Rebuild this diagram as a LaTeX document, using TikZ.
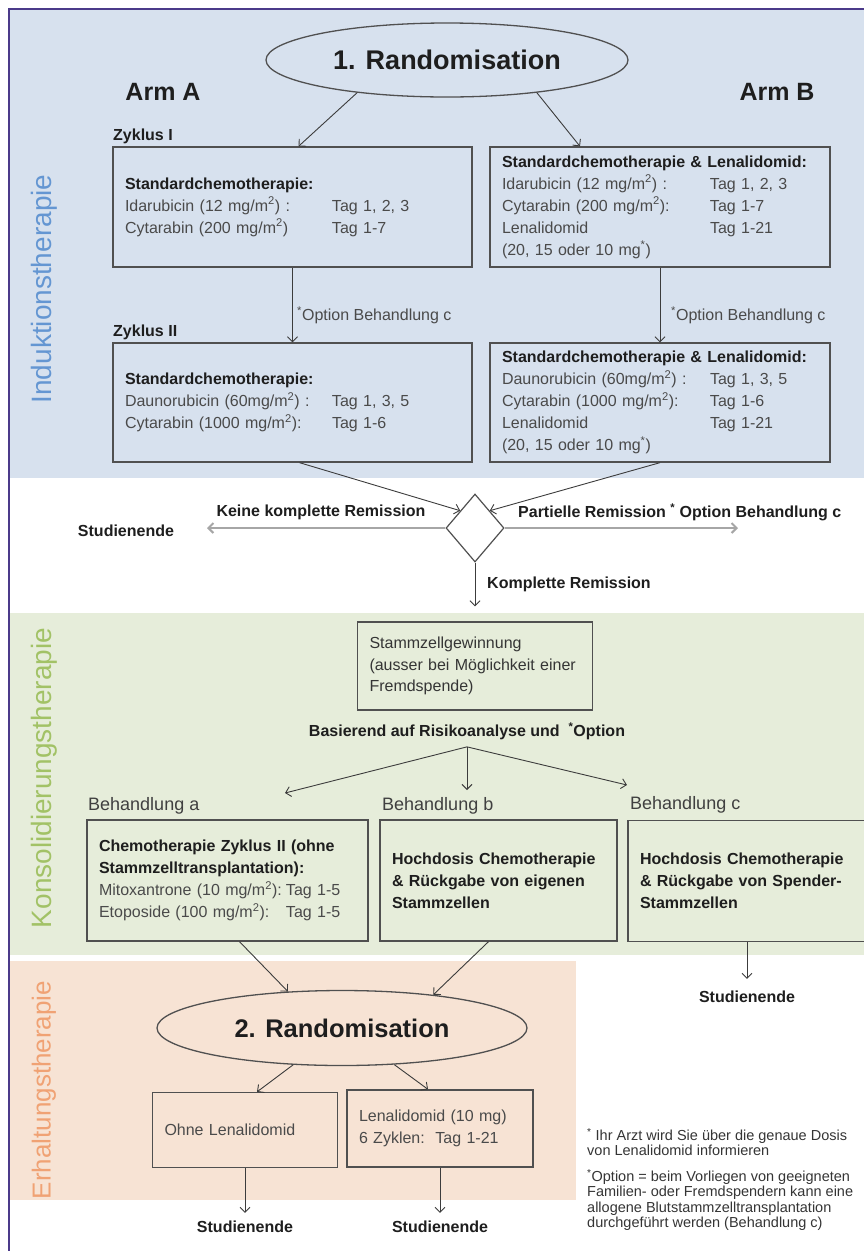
\documentclass[tikz,border=0pt]{standalone}
\usepackage{fontspec}
\setmainfont{Liberation Sans}
\usetikzlibrary{shapes.geometric,arrows.meta,calc}
\definecolor{bandblue}{HTML}{D7E1EE}
\definecolor{bandgreen}{HTML}{E6EDDA}
\definecolor{bandsalmon}{HTML}{F7E3D4}
\definecolor{lblblue}{HTML}{6496D2}
\definecolor{lblgreen}{HTML}{A2C266}
\definecolor{lblsalmon}{HTML}{F0A274}
\definecolor{framecol}{HTML}{4B3A8A}
\definecolor{boxline}{HTML}{505050}
\definecolor{txt}{HTML}{4A4A4A}
\definecolor{txtb}{HTML}{1E1E1E}
\definecolor{arrcol}{HTML}{3C3C3C}
\newcommand{\hdr}[1]{\textcolor{txtb}{\bfseries #1}}
\newcommand{\tagcol}[2]{\makebox[#1][l]{#2}}
\begin{document}
\begin{tikzpicture}[x=1pt,y=-1pt,
  box/.style={draw=boxline, line width=1.3pt, rectangle, inner xsep=12pt, inner ysep=0pt, align=left, text=txt, font=\fontsize{16}{22}\selectfont},
  bbox/.style={box, text=txtb, font=\fontsize{16}{22}\bfseries\selectfont},
  ell/.style={draw=boxline, line width=1.3pt, ellipse, inner sep=0pt, text=txtb},
  arr/.style={draw=arrcol, line width=0.9pt, -{Straight Barb[length=5pt,width=10pt]}},
  harr/.style={draw=gray!70, line width=2pt, -{Straight Barb[length=5pt,width=10pt]}},
  lbl/.style={text=txtb, font=\fontsize{16}{19}\bfseries\selectfont, inner sep=2pt},
  opt/.style={text=txt, font=\fontsize{16}{19}\selectfont, inner sep=0pt},
  beh/.style={text=txtb!85, font=\fontsize{18}{21}\selectfont, inner sep=0pt},
  vlab/.style={rotate=90, font=\fontsize{28}{32}\selectfont, inner sep=0pt},
  arm/.style={text=txtb, font=\fontsize{25}{28}\bfseries\selectfont, inner sep=0pt},
  fnote/.style={text=txtb!90, font=\fontsize{14.5}{15.5}\selectfont, align=left, inner sep=0pt, anchor=north west}
]
\useasboundingbox (0,0) rectangle (864,1251);
\clip (0,0) rectangle (864,1251);
% background bands
\fill[white] (0,0) rectangle (864,1251);
\fill[bandblue] (10,10) rectangle (864,478);
\fill[bandgreen] (10,613) rectangle (864,955);
\fill[bandsalmon] (10,961) rectangle (576,1200);
\draw[framecol, line width=2.5pt] (9,1262) -- (9,9) -- (875,9);

% side labels
\node[vlab, text=lblblue] (vInd) at (44,289) {Induktionstherapie};
\node[vlab, text=lblgreen] (vKon) at (44,778) {Konsolidierungstherapie};
\node[vlab, text=lblsalmon, font=\fontsize{26}{30}\selectfont] (vErh) at (44,1090) {Erhaltungstherapie};

% first randomisation
\node[ell, minimum width=362pt, minimum height=74pt, font=\fontsize{27}{30}\bfseries\selectfont] (e1) at (447,60) {1. Randomisation};
\node[arm] (armA) at (163,92) {Arm A};
\node[arm] (armB) at (777,92) {Arm B};

\node[lbl, anchor=west, inner sep=0pt] (zyk1) at (113,136) {Zyklus I};
\node[lbl, anchor=west, inner sep=0pt] (zyk2) at (113,332) {Zyklus II};

\node[box, text width=335pt, minimum height=120pt] (a1) at (292.5,207)
 {\hdr{Standardchemotherapie:}\\
  \tagcol{207pt}{Idarubicin (12 mg/m\textsuperscript{2}) :}Tag 1, 2, 3\\
  \tagcol{207pt}{Cytarabin (200 mg/m\textsuperscript{2})}Tag 1-7};
\node[box, text width=316pt, minimum height=120pt] (b1) at (660,207)
 {\hdr{Standardchemotherapie \& Lenalidomid:}\\
  \tagcol{208pt}{Idarubicin (12 mg/m\textsuperscript{2}) :}Tag 1, 2, 3\\
  \tagcol{208pt}{Cytarabin (200 mg/m\textsuperscript{2}):}Tag 1-7\\
  \tagcol{208pt}{Lenalidomid}Tag 1-21\\
  (20, 15 oder 10 mg\textsuperscript{*})};
\node[box, text width=335pt, minimum height=119pt] (a2) at (292.5,402.5)
 {\hdr{Standardchemotherapie:}\\
  \tagcol{207pt}{Daunorubicin (60mg/m\textsuperscript{2}) :}Tag 1, 3, 5\\
  \tagcol{207pt}{Cytarabin (1000 mg/m\textsuperscript{2}):}Tag 1-6};
\node[box, text width=316pt, minimum height=119pt] (b2) at (660,402.5)
 {\hdr{Standardchemotherapie \& Lenalidomid:}\\
  \tagcol{208pt}{Daunorubicin (60mg/m\textsuperscript{2}) :}Tag 1, 3, 5\\
  \tagcol{208pt}{Cytarabin (1000 mg/m\textsuperscript{2}):}Tag 1-6\\
  \tagcol{208pt}{Lenalidomid}Tag 1-21\\
  (20, 15 oder 10 mg\textsuperscript{*})};

\draw[arr] (e1.-160) -- ([xshift=6pt]a1.north);
\draw[arr] (e1.-20) -- ([xshift=-80pt]b1.north);
\draw[arr] (a1) -- (a2);
\draw[arr] (b1) -- (b2);
\node[opt, anchor=west] (o1) at (297,315) {\textsuperscript{*}Option Behandlung c};
\node[opt, anchor=west] (o2) at (671,315) {\textsuperscript{*}Option Behandlung c};

% decision
\node[diamond, draw=boxline, fill=white, line width=1.2pt, minimum width=58pt, minimum height=68pt, inner sep=0pt] (d) at (475,528) {};
\draw[arr] ([xshift=7pt]a2.south) -- (d.north west);
\draw[arr] (b2.south) -- (d.north east);
\coordinate (kEnd) at (207,528);
\coordinate (pEnd) at (738,528);
\draw[harr] (d.west) -- (kEnd);
\draw[harr] (d.east) -- (pEnd);
\node[lbl] (kLab) at (321,512) {Keine komplette Remission};
\node[lbl] (sLeft) at (126,531) {Studienende};
\node[lbl, anchor=west] (pLab) at (516,512) {Partielle Remission \textsuperscript{*} Option Behandlung c};
\node[lbl, anchor=west] (kompl) at (485,584) {Komplette Remission};

% consolidation
\node[box, text=txtb!90, text width=211pt, minimum height=88pt, font=\fontsize{16}{21.5}\selectfont] (sz) at (475,666)
 {Stammzellgewinnung\\(ausser bei M\"oglichkeit einer\\Fremdspende)};
\draw[arr, shorten >=15pt] (d.south) -- (sz.north);
\node[lbl] (bas) at (467,731) {Basierend auf Risikoanalyse und\ \ \textsuperscript{*}Option};
\coordinate (tA) at (285,793);
\coordinate (tB) at (467,790);
\coordinate (tC) at (627,785);
\draw[arr] ([yshift=-5pt]bas.south) -- (tA);
\draw[arr] ([yshift=-5pt]bas.south) -- (tB);
\draw[arr] ([yshift=-5pt]bas.south) -- (tC);
\node[beh, anchor=west] (lA) at (88,806) {Behandlung a};
\node[beh, anchor=west] (lB) at (382,806) {Behandlung b};
\node[beh, anchor=west] (lC) at (630,805) {Behandlung c};

\node[box, text width=257pt, minimum height=121pt] (ba) at (227.5,880.5)
 {\hdr{Chemotherapie Zyklus II (ohne}\\
  \hdr{Stammzelltransplantation):}\\
  \tagcol{187pt}{Mitoxantrone (10 mg/m\textsuperscript{2}):}Tag 1-5\\
  \tagcol{187pt}{Etoposide (100 mg/m\textsuperscript{2}):}Tag 1-5};
\node[bbox, text width=213pt, minimum height=121pt] (bb) at (498.5,880.5)
 {Hochdosis Chemotherapie\\\& R\"uckgabe von eigenen\\Stammzellen};
\node[bbox, text width=214pt, minimum height=121pt] (bc) at (747,881)
 {Hochdosis Chemotherapie\\\& R\"uckgabe von Spender-\\Stammzellen};
\node[lbl] (sC) at (747,997) {Studienende};
\draw[arr, shorten >=10pt] (bc.south) -- (sC.north);

% maintenance
\node[ell, minimum width=370pt, minimum height=75pt, font=\fontsize{25.5}{28}\bfseries\selectfont] (e2) at (342,1028) {2. Randomisation};
\draw[arr] ([xshift=12pt]ba.south) -- (e2.146);
\draw[arr] ([xshift=-10pt]bb.south) -- (e2.20);
\node[box, text width=161pt, minimum height=75pt] (bO) at (245,1130) {Ohne Lenalidomid};
\node[box, text width=162pt, minimum height=77pt] (bL) at (440,1128.5)
 {Lenalidomid (10 mg)\\6 Zyklen:\ \ Tag 1-21};
\draw[arr] (e2.-143) -- ([xshift=12pt]bO.north);
\draw[arr] (e2.-35) -- ([xshift=-12pt]bL.north);
\node[lbl] (sO) at (245,1227) {Studienende};
\node[lbl] (sL) at (440,1227) {Studienende};
\draw[arr, shorten >=6pt] (bO.south) -- (sO.north);
\draw[arr, shorten >=6pt] (bL.south) -- (sL.north);

% footnotes
\node[fnote] (fn1) at (587,1128) {\textsuperscript{*} Ihr Arzt wird Sie \"uber die genaue Dosis\\von Lenalidomid informieren};
\node[fnote] (fn2) at (587,1169) {\textsuperscript{*}Option = beim Vorliegen von geeigneten\\Familien- oder Fremdspendern kann eine\\allogene Blutstammzelltransplantation\\durchgef\"uhrt werden (Behandlung c)};
\end{tikzpicture}
\end{document}
